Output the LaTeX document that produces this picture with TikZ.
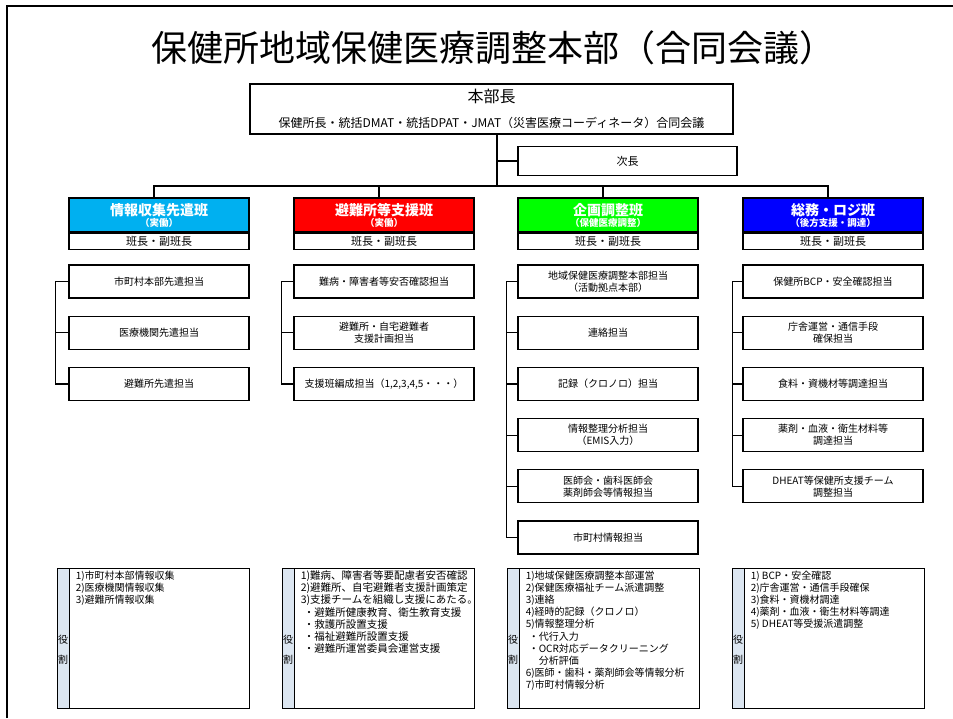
\documentclass[tikz,border=0pt]{standalone}
\usepackage{fontspec}
\setmainfont{Noto Sans CJK JP}
\usepackage{tikz}
\usetikzlibrary{positioning}
\definecolor{infoblue}{RGB}{0,176,240}
\definecolor{shelterred}{RGB}{255,0,0}
\definecolor{plangreen}{RGB}{0,255,0}
\definecolor{logiblue}{RGB}{0,0,255}
\definecolor{rolestrip}{RGB}{220,230,241}

\begin{document}
\begin{tikzpicture}[x=1pt, y=-1pt, line width=1.2pt, node distance=17pt,
    box/.style = {draw, minimum width=180pt, minimum height=33pt, align=center, inner sep=1pt, font=\fontsize{10}{12}\selectfont},
    team/.style = {draw, minimum width=180pt, minimum height=34pt, align=center, inner sep=1pt, text=white, font=\fontsize{9.5}{11}\selectfont\bfseries},
    lead/.style = {draw, minimum width=180pt, minimum height=16pt, inner sep=0pt, font=\fontsize{11}{12}\selectfont},
    role/.style = {draw, line width=1.4pt, anchor=north west, minimum width=192pt, minimum height=140pt},
    strip/.style = {draw, fill=rolestrip, anchor=north west, minimum width=12pt, minimum height=140pt},
    roletext/.style = {anchor=north west, align=left, inner sep=0pt, font=\fontsize{10}{12.2}\selectfont}]
  \useasboundingbox (0,0) rectangle (953,718);
  \draw[line width=2pt] (7,718) -- (7,6) -- (953,6);

  \node (title) at (493,48) {\fontsize{36}{40}\selectfont 保健所地域保健医療調整本部（合同会議）};
  \node[draw, minimum width=483pt, minimum height=50pt, align=center, font=\fontsize{12}{14}\selectfont] (head) at (491.5,109)
    {{\fontsize{16}{18}\selectfont 本部長}\\[11pt]保健所長・統括DMAT・統括DPAT・JMAT（災害医療コーディネータ）合同会議};
  \node[draw, minimum width=219pt, minimum height=29pt, font=\fontsize{11}{12}\selectfont] (vice) at (627.5,161) {次長};
  \coordinate (bus) at (497,186);

  % teams
  \node[team, fill=infoblue] (t1) at (159,215) {{\fontsize{14}{15}\selectfont 情報収集先遣班}\\（実働）};
  \node[team, fill=shelterred] (t2) at (384,215) {{\fontsize{14}{15}\selectfont 避難所等支援班}\\（実働）};
  \node[team, fill=plangreen] (t3) at (608,215) {{\fontsize{14}{15}\selectfont 企画調整班}\\（保健医療調整）};
  \node[team, fill=logiblue] (t4) at (833,215) {{\fontsize{14}{15}\selectfont 総務・ロジ班}\\（後方支援・調達）};
  \node[lead] (l1) [below=0pt of t1] {班長・副班長};
  \node[lead] (l2) [below=0pt of t2] {班長・副班長};
  \node[lead] (l3) [below=0pt of t3] {班長・副班長};
  \node[lead] (l4) [below=0pt of t4] {班長・副班長};

  \draw (head.south -| bus) -- (bus);
  \draw (vice.west) -- (vice.west -| bus);
  \draw ([xshift=-5pt]t1.north) |- (bus) -| ([xshift=-5pt]t4.north);
  \draw ([xshift=-5pt]t2.north) -- ([xshift=-5pt]t2.north |- bus);
  \draw ([xshift=-5pt]t3.north) -- ([xshift=-5pt]t3.north |- bus);

  % duties
  \node[box] (a1) at (159,281.5) {市町村本部先遣担当};
  \node[box] (a2) [below=of a1] {医療機関先遣担当};
  \node[box] (a3) [below=of a2] {避難所先遣担当};
  \node[box] (b1) at (384,281.5) {難病・障害者等安否確認担当};
  \node[box] (b2) [below=of b1] {避難所・自宅避難者\\支援計画担当};
  \node[box] (b3) [below=of b2] {支援班編成担当（1,2,3,4,5・・・）};
  \node[box] (c1) at (608,281.5) {地域保健医療調整本部担当\\（活動拠点本部）};
  \node[box] (c2) [below=of c1] {連絡担当};
  \node[box] (c3) [below=of c2] {記録（クロノロ）担当};
  \node[box] (c4) [below=of c3] {情報整理分析担当\\（EMIS入力）};
  \node[box] (c5) [below=of c4] {医師会・歯科医師会\\薬剤師会等情報担当};
  \node[box] (c6) [below=of c5] {市町村情報担当};
  \node[box] (d1) at (833,281.5) {保健所BCP・安全確認担当};
  \node[box] (d2) [below=of d1] {庁舎運営・通信手段\\確保担当};
  \node[box] (d3) [below=of d2] {食料・資機材等調達担当};
  \node[box] (d4) [below=of d3] {薬剤・血液・衛生材料等\\調達担当};
  \node[box] (d5) [below=of d4] {DHEAT等保健所支援チーム\\調整担当};

  \draw (a1.west) -- ++(-13,0) |- (a3.west);
  \draw (a2.west) -- ++(-13,0);
  \draw (b1.west) -- ++(-12,0) |- (b3.west);
  \draw (b2.west) -- ++(-12,0);
  \draw (c1.west) -- ++(-11,0) |- (c6.west);
  \draw (c2.west) -- ++(-11,0);
  \draw (c3.west) -- ++(-11,0);
  \draw (c4.west) -- ++(-11,0);
  \draw (c5.west) -- ++(-11,0);
  \draw (d1.west) -- ++(-10,0) |- (d5.west);
  \draw (d2.west) -- ++(-10,0);
  \draw (d3.west) -- ++(-10,0);
  \draw (d4.west) -- ++(-10,0);

  % roles
  \node[role] (r1) at (57,568) {};
  \node[role] (r2) at (282,568) {};
  \node[role] (r3) at (507,568) {};
  \node[role] (r4) at (732,568) {};
  \node[strip] (s1) at (r1.north west) {};
  \node[strip] (s2) at (r2.north west) {};
  \node[strip] (s3) at (r3.north west) {};
  \node[strip] (s4) at (r4.north west) {};
  \node[align=center, inner sep=0pt, font=\fontsize{10}{20}\selectfont] (k1) at (63,650) {役\\割};
  \node[align=center, inner sep=0pt, font=\fontsize{10}{20}\selectfont] (k2) at (288,650) {役\\割};
  \node[align=center, inner sep=0pt, font=\fontsize{10}{20}\selectfont] (k3) at (513,650) {役\\割};
  \node[align=center, inner sep=0pt, font=\fontsize{10}{20}\selectfont] (k4) at (738,650) {役\\割};

  \node[roletext] (p1) at ([xshift=5pt,yshift=-2pt]s1.north east)
    {1)市町村本部情報収集\\2)医療機関情報収集\\3)避難所情報収集};
  \node[roletext, font=\fontsize{10.5}{12.2}\selectfont] (p2) at ([xshift=5pt,yshift=-2pt]s2.north east)
    {1)難病、障害者等要配慮者安否確認\\2)避難所、自宅避難者支援計画策定\\3)支援チームを組織し支援にあたる。\\
     \hspace{3pt}・避難所健康教育、衛生教育支援\\\hspace{3pt}・救護所設置支援\\\hspace{3pt}・福祉避難所設置支援\\\hspace{3pt}・避難所運営委員会運営支援};
  \node[roletext] (p3) at ([xshift=5pt,yshift=-2pt]s3.north east)
    {1)地域保健医療調整本部運営\\2)保健医療福祉チーム派遣調整\\3)連絡\\4)経時的記録（クロノロ）\\5)情報整理分析\\
     \hspace{3pt}・代行入力\\\hspace{3pt}・OCR対応データクリーニング\\\hspace{13pt}分析評価\\6)医師・歯科・薬剤師会等情報分析\\7)市町村情報分析};
  \node[roletext] (p4) at ([xshift=5pt,yshift=-2pt]s4.north east)
    {1) BCP・安全確認\\2)庁舎運営・通信手段確保\\3)食料・資機材調達\\4)薬剤・血液・衛生材料等調達\\5) DHEAT等受援派遣調整};
\end{tikzpicture}
\end{document}
